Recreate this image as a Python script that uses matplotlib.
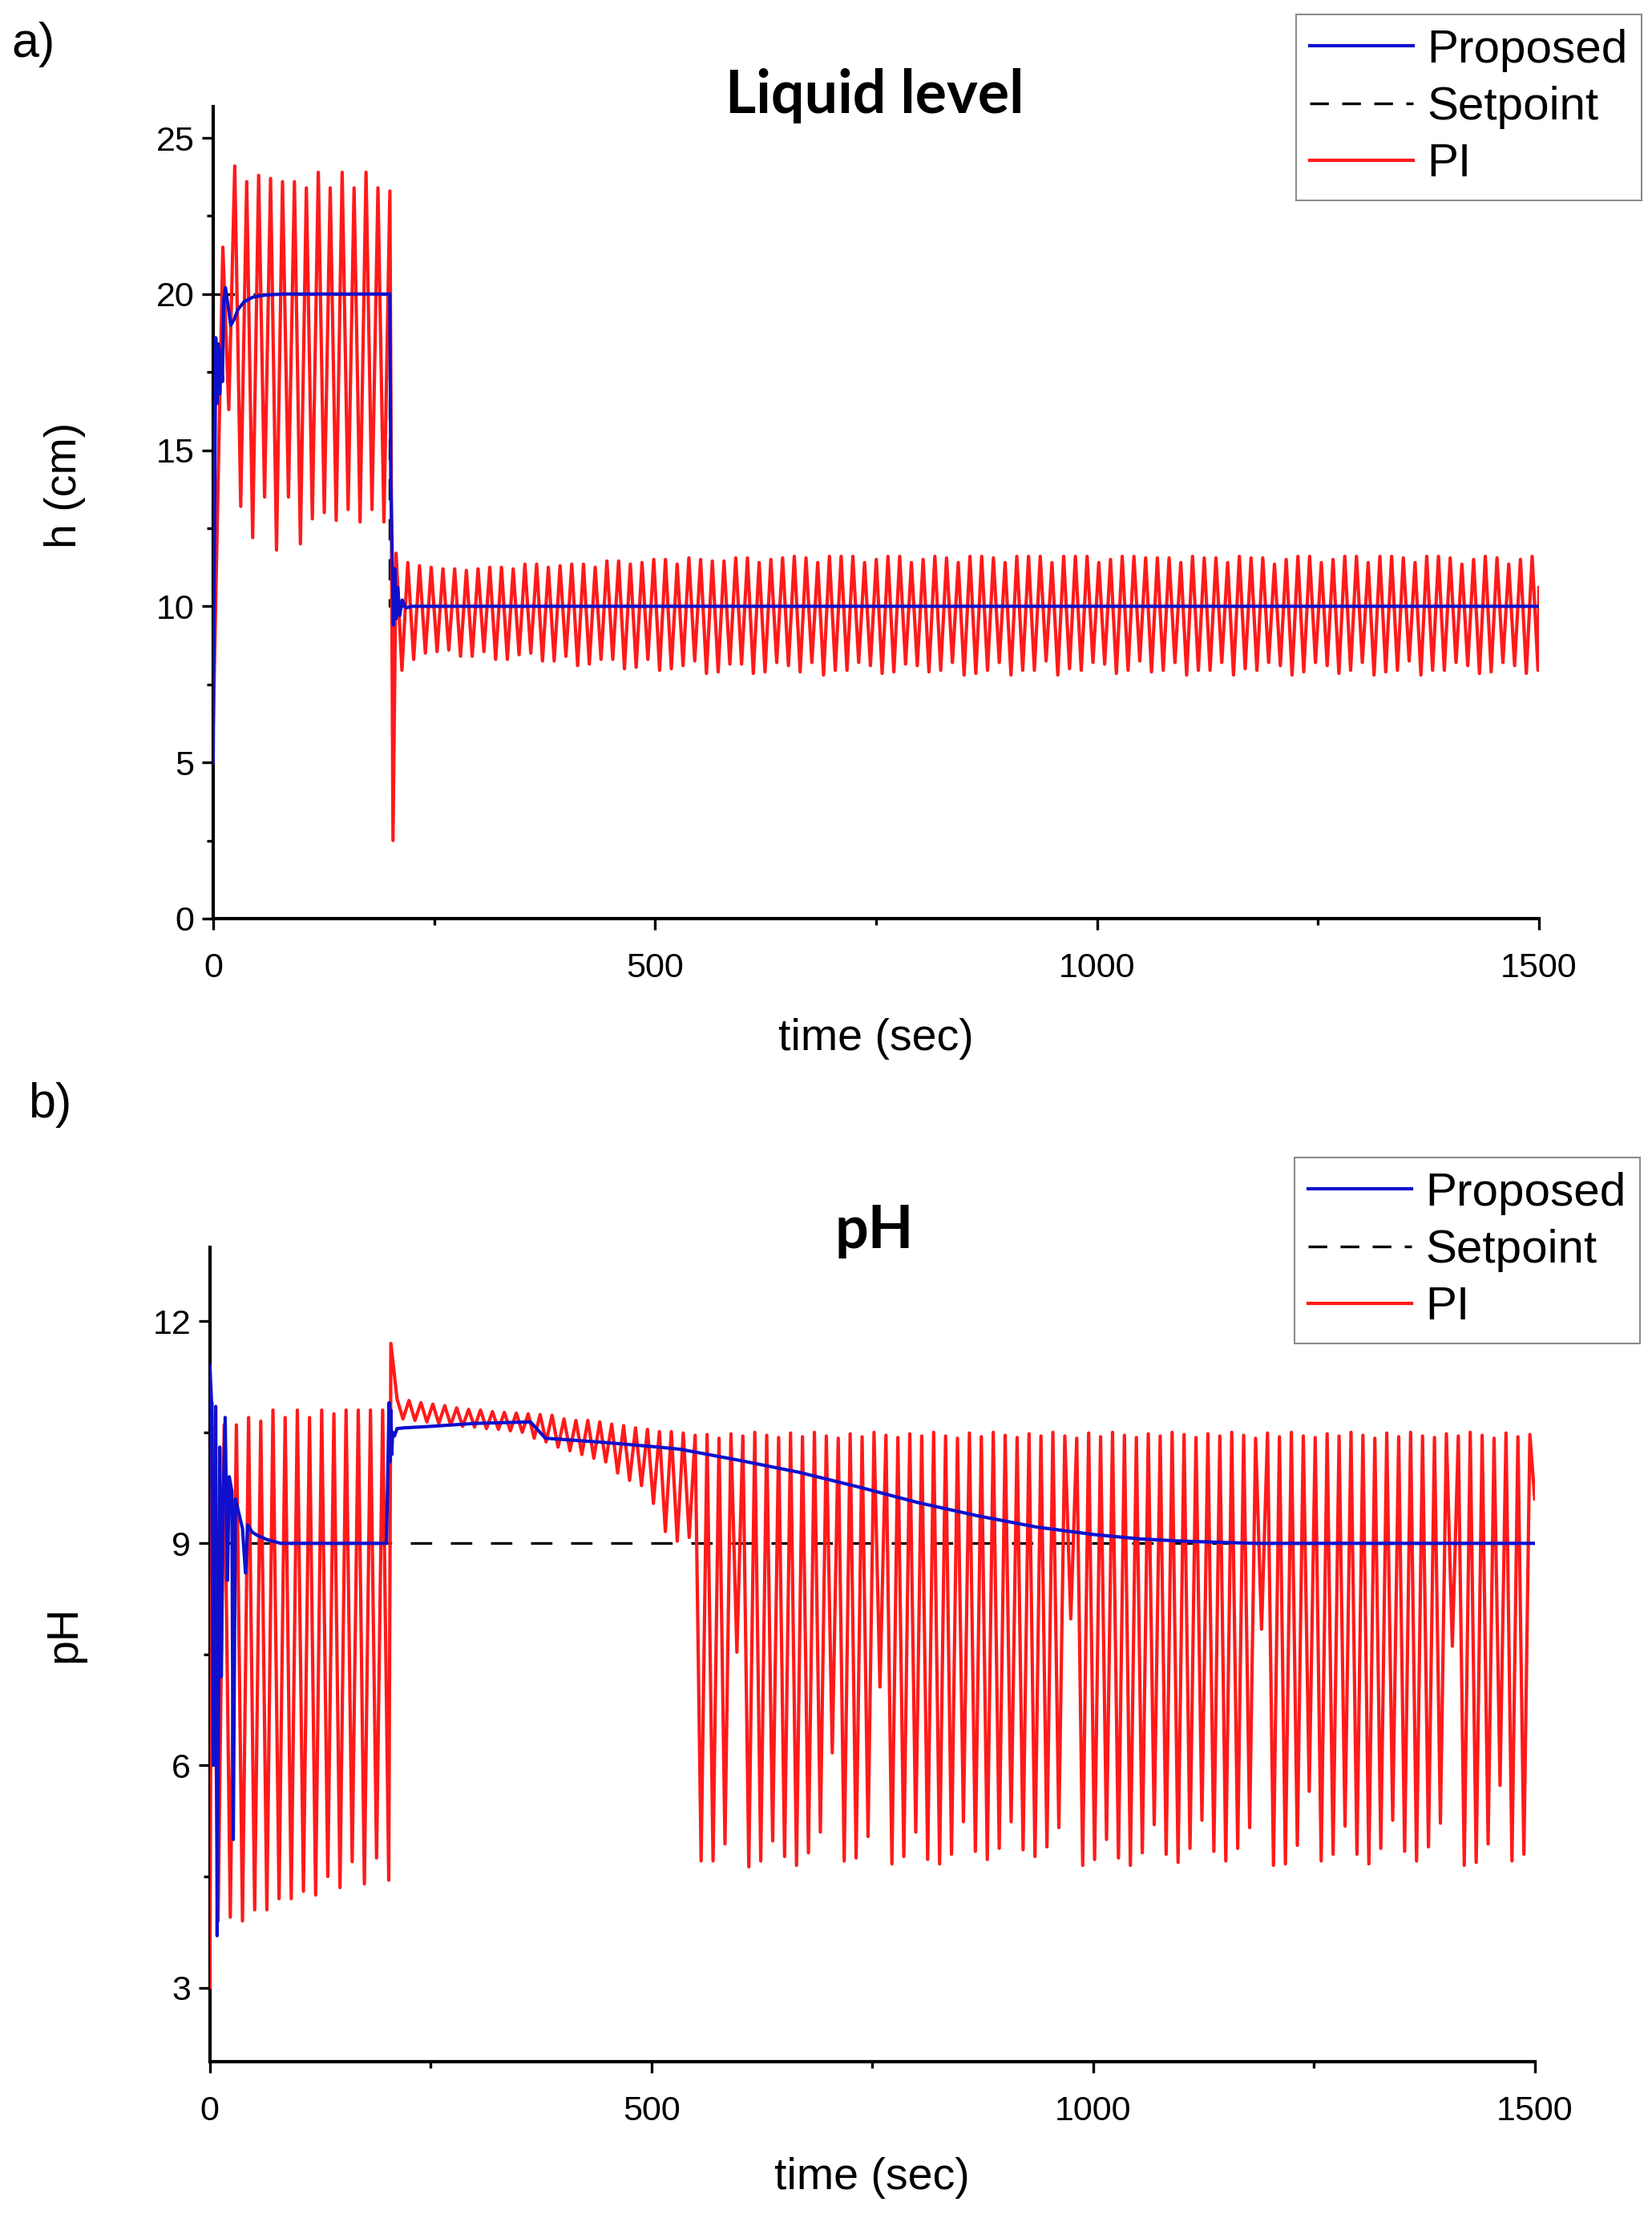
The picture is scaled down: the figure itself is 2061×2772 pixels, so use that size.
import matplotlib
matplotlib.use("Agg")
import matplotlib.pyplot as plt
from matplotlib.lines import Line2D
from matplotlib.ticker import MultipleLocator

plt.rcParams["font.family"] = ["Liberation Sans", "DejaVu Sans"]

# ---------------- liquid level (panel a) ----------------
level_sp_t = [0, 200, 200, 1500]
level_sp_v = [20, 20, 10, 10]

level_prop_t = [0, 1.5, 3, 4.5, 6, 7.5, 9, 10.5, 12, 14, 17, 20, 24, 28, 35, 45, 60, 80,
                200, 201, 202.5, 204, 205.5, 207, 209, 211, 214, 218, 225, 240, 1500]
level_prop_v = [5.0, 12.0, 18.6, 16.5, 18.4, 16.8, 18.2, 17.2, 19.8, 20.2, 19.6, 19.0, 19.2,
                19.5, 19.75, 19.9, 19.97, 20.0, 20.0, 14.0, 11.8, 9.4, 11.2, 9.6, 10.6, 9.7,
                10.2, 9.95, 10.0, 10.0, 10.0]

# PI: first setpoint (peaks / troughs per cycle)
level_pi_start = 6.0
level_pi_peaks_1 = [21.5, 24.1, 23.6, 23.8, 23.7, 23.6, 23.6, 23.4, 23.9, 23.4, 23.9, 23.4,
                    23.9, 23.4, 23.3]
level_pi_troughs_1 = [16.3, 13.2, 12.2, 13.5, 11.8, 13.5, 12.0, 12.8, 13.0, 12.75, 13.1, 12.7,
                      13.1, 12.7]
level_pi_dip = 2.5
# PI: second setpoint
level_pi_peaks_2 = [11.7, 11.4, 11.3, 11.25, 11.2, 11.2, 11.15, 11.2, 11.25, 11.25, 11.2, 11.35,
                    11.35, 11.25, 11.3, 11.35, 11.35, 11.25, 11.45, 11.45, 11.35, 11.4, 11.5, 11.5,
                    11.35, 11.55, 11.5, 11.45, 11.45, 11.55, 11.55, 11.4, 11.5, 11.55,
                    11.6, 11.55, 11.4, 11.6, 11.6, 11.6, 11.4, 11.5, 11.6, 11.6, 11.4, 11.5,
                    11.6, 11.55, 11.4, 11.6, 11.6, 11.55, 11.4, 11.6, 11.6, 11.6, 11.4, 11.6,
                    11.6, 11.6, 11.4, 11.5, 11.6, 11.6,
                    11.55, 11.55, 11.55, 11.4, 11.6, 11.55, 11.55, 11.4, 11.6, 11.55, 11.55, 11.35,
                    11.5, 11.6, 11.6, 11.4, 11.5, 11.6, 11.6, 11.4, 11.6, 11.6, 11.55, 11.4,
                    11.6, 11.6, 11.55, 11.35, 11.5, 11.6, 11.55, 11.35, 11.5, 11.6]
level_pi_troughs_2 = [7.95, 8.3, 8.5, 8.55, 8.6, 8.4, 8.4, 8.55, 8.3, 8.3, 8.45, 8.5, 8.25, 8.25,
                      8.4, 8.1, 8.15, 8.3, 8.3, 8.0, 8.05, 8.3, 7.95, 8.0, 8.1, 8.25, 7.85, 7.9,
                      8.15, 8.15, 7.85, 7.9, 8.2, 8.1,
                      7.9, 8.2, 7.8, 7.95, 7.95, 8.2, 8.1, 7.85, 7.9, 8.15, 8.1, 7.9, 7.95, 8.2,
                      7.8, 7.85, 7.95, 8.2, 7.8, 7.95, 7.95, 8.25, 7.8, 8.0, 7.95, 8.2, 8.15, 7.85,
                      7.95, 8.25,
                      7.9, 7.95, 8.2, 7.8, 7.95, 7.95, 8.2, 7.8, 8.0, 7.95, 8.2, 8.1, 7.8, 7.9,
                      8.2, 8.1, 7.85, 7.95, 8.2, 7.8, 7.9, 7.95, 8.25, 7.8, 7.95, 7.95, 8.2, 8.1,
                      7.85, 7.9, 8.2, 8.1, 7.85, 7.95]
level_pi_end = 10.6

# ---------------- pH (panel b) ----------------
ph_sp_t = [0, 1500]
ph_sp_v = [9, 9]

ph_prop_t = [0, 2, 4, 6.7, 8.3, 10, 11.3, 13, 15, 17.4, 20, 22, 25, 26.6, 29, 33, 37, 40.4, 43,
             48, 55, 65, 80, 200, 203, 204, 205, 206, 207, 209, 212, 220, 250, 300, 363, 380,
             450, 508, 533, 600, 667, 735, 802, 870, 936, 1000, 1053, 1100, 1182, 1500]
ph_prop_v = [11.4, 10.9, 6.0, 10.85, 3.7, 7.0, 10.3, 7.2, 9.5, 10.7, 8.5, 9.9, 9.7, 5.0, 9.6,
             9.4, 9.2, 8.6, 9.25, 9.15, 9.1, 9.05, 9.0, 9.0, 10.9, 10.1, 10.8, 10.2, 10.5, 10.45,
             10.55, 10.56, 10.58, 10.62, 10.64, 10.42, 10.36, 10.3, 10.27, 10.12, 9.96, 9.76,
             9.55, 9.37, 9.22, 9.12, 9.06, 9.03, 9.0, 9.0]

ph_pi_start = 3.0
ph_pi_peaks_1 = [10.9, 10.6, 10.6, 10.7, 10.65, 10.8, 10.7, 10.8, 10.7, 10.8, 10.75, 10.8, 10.8,
                 10.8, 10.8]
ph_pi_troughs_1 = [3.9, 3.95, 3.9, 4.05, 4.05, 4.2, 4.2, 4.3, 4.25, 4.5, 4.35, 4.7, 4.4, 4.75,
                   4.45]
ph_pi_spike = 11.7
ph_pi_peaks_2 = [10.95, 10.93, 10.9, 10.88, 10.86, 10.83, 10.81, 10.8, 10.78, 10.77, 10.76,
                 10.75, 10.74, 10.73, 10.68, 10.66, 10.66, 10.64, 10.61, 10.59, 10.56, 10.54,
                 10.51, 10.51, 10.49, 10.46,
                 10.47, 10.42, 10.48, 10.45, 10.5, 10.46, 10.43, 10.49, 10.44, 10.5, 10.45, 10.42,
                 10.48, 10.44, 10.5, 10.46, 10.43, 10.48, 10.45, 10.5, 10.45, 10.42, 10.49, 10.44,
                 10.5, 10.46, 10.43, 10.48, 10.45, 10.5, 10.45, 10.42, 10.49, 10.44, 10.5, 10.46,
                 10.43, 10.48, 10.45, 10.5, 10.47, 10.43, 10.48, 10.45, 10.5, 10.46, 10.42, 10.49,
                 10.44, 10.5, 10.45, 10.43, 10.48, 10.45, 10.5, 10.46, 10.42, 10.49, 10.44, 10.5,
                 10.45, 10.43, 10.48, 10.45, 10.5, 10.46, 10.42, 10.49, 10.44, 10.47]
ph_pi_troughs_2 = [10.68, 10.66, 10.64, 10.62, 10.6, 10.58, 10.57, 10.55, 10.54, 10.52, 10.5,
                   10.42, 10.37, 10.3, 10.25, 10.2, 10.15, 10.1, 9.95, 9.85, 9.78, 9.54, 9.16,
                   9.03, 9.08,
                   4.71, 4.71, 4.94, 7.53, 4.63, 4.71, 4.98, 4.77, 4.65, 4.82, 5.1, 6.17, 4.71,
                   4.75, 5.04, 7.06, 4.67, 4.77, 5.1, 4.73, 4.67, 4.8, 5.24, 4.84, 4.73, 4.88,
                   5.24, 4.86, 4.77, 4.9, 5.16, 7.98, 4.65, 4.73, 5.0, 4.75,
                   4.65, 4.82, 5.2, 4.8, 4.69, 4.88, 5.26, 4.84, 4.71, 4.88, 5.16, 7.84, 4.65,
                   4.67, 4.92, 5.65, 4.71, 4.8, 5.18, 4.8, 4.67, 4.88, 5.26, 4.84, 4.71, 4.9,
                   5.22, 7.61, 4.65, 4.69, 4.94, 5.73, 4.71, 4.8]
ph_pi_end = 9.6


def zigzag(t0, period, peaks, troughs):
    t, v = [], []
    for k, p in enumerate(peaks):
        t.append(t0 + k * period)
        v.append(p)
        if k < len(troughs):
            t.append(t0 + (k + 0.5) * period)
            v.append(troughs[k])
    return t, v


t1, v1 = zigzag(11, 13.5, level_pi_peaks_1, level_pi_troughs_1)
t2, v2 = zigzag(207, 13.25, level_pi_peaks_2, level_pi_troughs_2)
level_pi_t = [0] + t1 + [203.5] + t2 + [1500]
level_pi_v = [level_pi_start] + v1 + [level_pi_dip] + v2 + [level_pi_end]

t1, v1 = zigzag(2.5, 13.8, ph_pi_peaks_1, ph_pi_troughs_1)
t2, v2 = zigzag(212, 13.5, ph_pi_peaks_2, ph_pi_troughs_2)
ph_pi_t = [0] + t1 + [205] + t2 + [1500]
ph_pi_v = [ph_pi_start] + v1 + [ph_pi_spike] + v2 + [ph_pi_end]

BLUE = "#1010cc"
RED = "#ff1a1a"
LW = 3.0

fig = plt.figure(figsize=(20.61, 27.72), dpi=100)
ax1 = fig.add_axes([0.129, 0.5866, 0.8026, 0.3654])
ax2 = fig.add_axes([0.127, 0.0722, 0.802, 0.3665])

panels = [
    (ax1, level_pi_t, level_pi_v, level_prop_t, level_prop_v, level_sp_t, level_sp_v),
    (ax2, ph_pi_t, ph_pi_v, ph_prop_t, ph_prop_v, ph_sp_t, ph_sp_v),
]
for ax, pt, pv, bt, bv, st, sv in panels:
    ax.plot(st, sv, color="black", lw=2.4, dashes=(8, 7), zorder=2)
    ax.plot(pt, pv, color=RED, lw=LW, zorder=3)
    ax.plot(bt, bv, color=BLUE, lw=LW, zorder=4)
    ax.set_xlim(0, 1500)
    ax.xaxis.set_major_locator(MultipleLocator(500))
    ax.xaxis.set_minor_locator(MultipleLocator(250))
    for side in ("top", "right"):
        ax.spines[side].set_visible(False)
    for side in ("left", "bottom"):
        ax.spines[side].set_linewidth(3)
    ax.tick_params(which="major", direction="out", length=10, width=2.4, labelsize=31)
    ax.tick_params(which="minor", direction="out", length=6, width=2.4)
    ax.tick_params(axis="x", which="major", pad=20)
    ax.tick_params(axis="y", which="major", pad=7)
    ax.set_xlabel("time (sec)", fontsize=40)
    ax.xaxis.label.set_verticalalignment("center")
    ax.yaxis.label.set_verticalalignment("center")

ax1.set_ylim(0, 26)
ax1.yaxis.set_major_locator(MultipleLocator(5))
ax1.yaxis.set_minor_locator(MultipleLocator(2.5))
ax1.set_ylabel("h (cm)", fontsize=40)
ax1.xaxis.set_label_coords(0.5, -0.148)
ax1.yaxis.set_label_coords(-0.112, 0.534)

ax2.set_ylim(2, 13)
ax2.yaxis.set_major_locator(MultipleLocator(3))
ax2.yaxis.set_minor_locator(MultipleLocator(1.5))
ax2.set_ylabel("pH", fontsize=40)
ax2.xaxis.set_label_coords(0.5, -0.143)
ax2.yaxis.set_label_coords(-0.110, 0.525)

fig.text(1091 / 2061, 1 - 120 / 2772, "Liquid level", fontsize=53, fontweight="bold",
         family=["Lato", "DejaVu Sans"], ha="center", va="center")
fig.text(1091 / 2061, 1 - 1535 / 2772, "pH", fontsize=53, fontweight="bold",
         family=["Lato", "DejaVu Sans"], ha="center", va="center")
fig.text(14 / 2061, 1 - 55 / 2772, "a)", fontsize=44, ha="left", va="center")
fig.text(35 / 2061, 1 - 1379 / 2772, "b)", fontsize=44, ha="left", va="center")

handles = [
    Line2D([], [], color=BLUE, lw=LW),
    Line2D([], [], color="black", lw=2.4, dashes=(7, 5)),
    Line2D([], [], color=RED, lw=LW),
]
labels = ["Proposed", "Setpoint", "PI"]
for anchor in [(2048 / 2061, 1 - 18 / 2772), (2046 / 2061, 1 - 1444 / 2772)]:
    leg = fig.legend(handles, labels, loc="upper right", bbox_to_anchor=anchor, fontsize=42,
                     frameon=True, fancybox=False, edgecolor="#707070", handlelength=2.2,
                     handletextpad=0.3, labelspacing=0.3, borderpad=0.3, borderaxespad=0)
    leg.get_frame().set_linewidth(1.5)

fig.savefig("out.png", dpi=100)
